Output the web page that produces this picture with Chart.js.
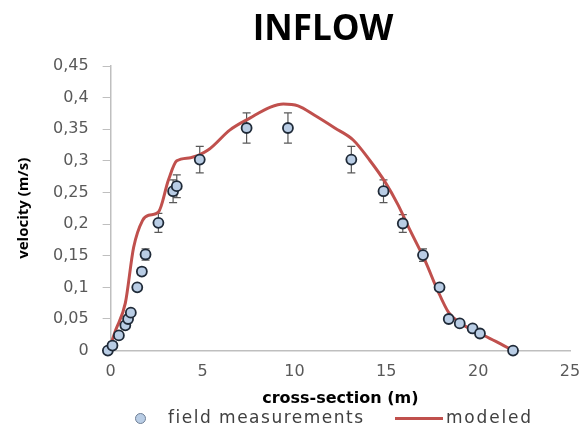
<!DOCTYPE html>
<html>
<head>
<meta charset="utf-8">
<script src="https://cdn.jsdelivr.net/npm/chart.js@4/dist/chart.umd.min.js"></script>
<style>
  html, body { margin: 0; padding: 0; background: #fff; }
  #wrap { position: relative; width: 585px; height: 430px; font-family: 'DejaVu Sans', sans-serif; }
  #chart { position: absolute; left: 0; top: 0; }
  #title { position: absolute; top: 3px; left: 173px; width: 300px; text-align: center;
           font-family: 'Open Sans', sans-serif; font-weight: bold; font-size: 35px; color: #000; }
  #legend { position: absolute; top: 407px; left: 0; font-size: 17px; color: #404040; }
  #legend span { position: absolute; white-space: nowrap; }
  .dot { width: 9px; height: 9px; border-radius: 50%; background: #b9cde5; border: 1px solid #6f7f95; top: 6px; }
  .ln { width: 48px; height: 3px; background: #c0504d; top: 10px; }
</style>
</head>
<body>
<div id="wrap">
  <canvas id="chart" width="585" height="430"></canvas>
  <div id="title">INFLOW</div>
  <div id="legend">
    <span class="dot" style="left:135px"></span>
    <span style="left:168px; letter-spacing:1.5px">field measurements</span>
    <span class="ln" style="left:395px"></span>
    <span style="left:446px; letter-spacing:1.8px">modeled</span>
  </div>
</div>
<script>
"use strict";

// field measurements
var measX   = [-0.15, 0.1, 0.45, 0.8, 0.95, 1.1, 1.45, 1.7, 1.9, 2.6, 3.4, 3.6, 4.85, 7.4, 9.65, 13.1, 14.85, 15.9, 17.0, 17.9, 18.4, 19.0, 19.7, 20.1, 21.9];
var measV   = [0, 0.008, 0.024, 0.04, 0.05, 0.06, 0.1, 0.125, 0.152, 0.202, 0.252, 0.26, 0.302, 0.352, 0.352, 0.302, 0.252, 0.201, 0.151, 0.1, 0.05, 0.043, 0.035, 0.027, 0];
var measErr = [0, 0, 0, 0, 0, 0, 0.004, 0.006, 0.009, 0.015, 0.018, 0.018, 0.021, 0.024, 0.024, 0.021, 0.018, 0.014, 0.01, 0, 0, 0, 0, 0, 0];

// modeled profile
var modX = [-0.1, 0.27, 0.8, 1.25, 1.74, 2.07, 2.6, 3.15, 3.6, 4.35, 5.3, 6.5, 7.6, 8.7, 9.4, 10.2, 11.1, 12.2, 13.2, 14.1, 14.95, 15.65, 16.3, 17.1, 17.8, 18.4, 19.0, 20.1, 21.2, 21.9];
var modV = [0, 0.032, 0.075, 0.163, 0.206, 0.214, 0.219, 0.27, 0.3, 0.305, 0.317, 0.349, 0.368, 0.385, 0.39, 0.387, 0.372, 0.352, 0.333, 0.301, 0.266, 0.23, 0.19, 0.143, 0.095, 0.06, 0.044, 0.027, 0.011, 0];

var xTicks = [0, 5, 10, 15, 20, 25];
var yTickLabels = ['0', '0,05', '0,1', '0,15', '0,2', '0,25', '0,3', '0,35', '0,4', '0,45'];

function pairs(xs, ys) {
  return xs.map(function (x, i) { return { x: x, y: ys[i] }; });
}

var errorBars = {
  id: 'errorBars',
  beforeDatasetsDraw: function (chart) {
    var ctx = chart.ctx, xs = chart.scales.x, ys = chart.scales.y;
    ctx.save();
    ctx.strokeStyle = '#595959';
    ctx.lineWidth = 1.2;
    measX.forEach(function (x, i) {
      var e = measErr[i];
      if (!e) return;
      var px = xs.getPixelForValue(x);
      var top = ys.getPixelForValue(measV[i] + e);
      var bot = ys.getPixelForValue(measV[i] - e);
      ctx.beginPath();
      ctx.moveTo(px, top); ctx.lineTo(px, bot);
      ctx.moveTo(px - 4, top); ctx.lineTo(px + 4, top);
      ctx.moveTo(px - 4, bot); ctx.lineTo(px + 4, bot);
      ctx.stroke();
    });
    ctx.restore();
  }
};

var font = { family: "'DejaVu Sans'", size: 16 };

new Chart(document.getElementById('chart'), {
  type: 'scatter',
  data: {
    datasets: [{
      label: 'field measurements',
      data: pairs(measX, measV),
      pointRadius: 5,
      pointBackgroundColor: '#b9cde5',
      pointBorderColor: '#1f2a38',
      pointBorderWidth: 1.8,
      clip: false,
      order: 0
    }, {
      label: 'modeled',
      data: pairs(modX, modV),
      showLine: true,
      borderColor: '#c0504d',
      borderWidth: 3,
      pointRadius: 0,
      cubicInterpolationMode: 'monotone',
      clip: false,
      order: 1
    }]
  },
  options: {
    responsive: false,
    animation: false,
    layout: { padding: { top: 66, left: 15, right: 0, bottom: 22 } },
    plugins: {
      legend: { display: false },
      title: { display: false },
      tooltip: { enabled: false }
    },
    scales: {
      x: {
        type: 'linear',
        min: 0, max: 25,
        afterBuildTicks: function (s) { s.ticks = xTicks.map(function (v) { return { value: v }; }); },
        afterFit: function (s) { s.paddingRight = 15; },
        grid: { display: false, drawOnChartArea: false, tickLength: 5, color: '#bfbfbf' },
        border: { color: '#bfbfbf', width: 1.5 },
        ticks: { color: '#595959', font: font, padding: 7, maxRotation: 0 },
        title: { display: true, text: 'cross-section (m)', color: '#000',
                 font: { family: "'DejaVu Sans'", size: 16, weight: 'bold' }, padding: { top: 0, bottom: 0 } }
      },
      y: {
        min: 0, max: 0.45,
        ticks: {
          stepSize: 0.05, color: '#595959', font: font, padding: 14,
          callback: function (v, i) { return yTickLabels[i]; }
        },
        grid: { display: true, drawOnChartArea: false, tickLength: 8, color: '#bfbfbf' },
        border: { color: '#bfbfbf', width: 1.5 },
        title: { display: true, text: 'velocity (m/s)', color: '#000',
                 font: { family: "'Open Sans'", size: 15, weight: 'bold' }, padding: { top: 0, bottom: 6 } }
      }
    }
  },
  plugins: [errorBars]
});
</script>
</body>
</html>
